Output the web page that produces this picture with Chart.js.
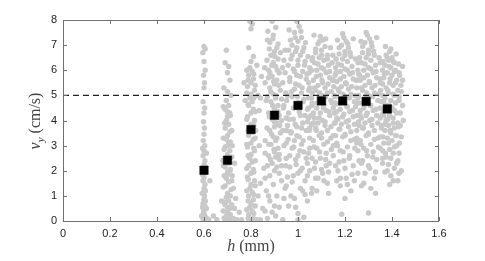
<!DOCTYPE html>
<html>
<head>
<meta charset="utf-8">
<script src="https://cdn.jsdelivr.net/npm/chart.js@4"></script>
<style>
html,body{margin:0;padding:0;background:#fff;}
#wrap{width:485px;height:261px;}
</style>
</head>
<body>
<div id="wrap"><canvas id="c" width="485" height="261"></canvas></div>
<script>
// Mean values (black squares)
const meanH = [0.60, 0.70, 0.80, 0.90, 1.00, 1.10, 1.19, 1.29, 1.38];
const meanV = [2.02, 2.42, 3.64, 4.21, 4.60, 4.78, 4.78, 4.76, 4.46];
// Reference line
const refLineH = [0, 1.6];
const refLineV = [5, 5];
// Tick labels
const xTickLabels = ['0','0.2','0.4','0.6','0.8','1','1.2','1.4','1.6'];
const yTickLabels = ['0','1','2','3','4','5','6','7','8'];

// Individual measurements (grey points), [h, v]
const col06 = [[0.600,6.95],[0.605,6.85],[0.595,6.7],[0.600,6.35],[0.605,6.0],[0.598,5.8],[0.602,5.5],[0.600,5.3],[0.596,4.75],[0.603,4.5],[0.600,4.3],[0.598,3.95],[0.602,3.7],[0.600,3.45],[0.597,3.2],[0.603,3.0],[0.600,2.8],[0.596,2.6],[0.604,2.4],[0.600,2.25],[0.598,2.05],[0.602,1.9],[0.600,1.75],[0.596,1.6],[0.604,1.45],[0.600,1.3],[0.598,1.15],[0.602,1.0],[0.600,0.85],[0.596,0.7],[0.604,0.6],[0.600,0.45],[0.598,0.35],[0.602,0.25],[0.606,0.15],[0.596,0.08],[0.604,0.03],[0.612,0.1],[0.62,0.05],[0.625,1.6],[0.64,0.2],[0.655,0.05],[0.61,0.5],[0.592,1.1],[0.594,2.9],[0.606,2.15],[0.594,1.85],[0.606,1.2],[0.594,0.55],[0.606,0.8],[0.61,2.7],[0.59,0.2]];
const col07 = [[0.695,6.8],[0.69,6.3],[0.705,6.15],[0.70,5.9],[0.71,5.6],[0.685,5.3],[0.70,5.15],[0.715,5.0],[0.695,4.8],[0.705,4.6],[0.69,4.45],[0.71,4.3],[0.70,4.15],[0.695,4.0],[0.705,3.85],[0.69,3.7],[0.71,3.55],[0.70,3.4],[0.695,3.25],[0.705,3.1],[0.69,2.95],[0.71,2.8],[0.70,2.65],[0.695,2.5],[0.705,2.3],[0.69,2.15],[0.71,2.0],[0.70,1.85],[0.695,1.7],[0.705,1.55],[0.69,1.4],[0.715,1.25],[0.70,1.1],[0.695,0.95],[0.705,0.8],[0.69,0.65],[0.71,0.5],[0.70,0.35],[0.695,0.2],[0.705,0.1],[0.715,0.03],[0.69,0.05],[0.725,0.1],[0.74,0.05],[0.735,0.9],[0.75,0.35],[0.76,0.05],[0.72,3.0],[0.72,1.8],[0.68,2.4],[0.675,0.8],[0.73,2.3],
  [0.682,4.55],[0.712,4.2],[0.688,3.9],[0.718,3.6],[0.682,3.3],[0.712,3.15],[0.686,2.85],[0.718,2.55],[0.682,2.2],[0.712,2.05],[0.686,1.8],[0.718,1.6],[0.682,1.35],[0.712,1.0],[0.686,0.75],[0.718,0.65],[0.682,0.4],[0.712,0.25],[0.686,0.12],[0.725,1.3],[0.73,0.5],[0.7,0.55],[0.7,1.95],[0.7,3.0],[0.7,4.35]];
const col08 = [[0.795,7.95],[0.805,7.85],[0.80,7.65],[0.79,6.9],[0.81,6.55],[0.80,6.35],[0.795,6.1],[0.805,5.95],[0.79,5.8],[0.81,5.65],[0.80,5.5],[0.785,5.35],[0.815,5.2],[0.80,5.05],[0.795,4.9],[0.805,4.75],[0.79,4.6],[0.81,4.45],[0.80,4.3],[0.785,4.15],[0.815,4.0],[0.80,3.85],[0.795,3.7],[0.805,3.55],[0.79,3.4],[0.81,3.25],[0.80,3.1],[0.785,2.95],[0.815,2.8],[0.80,2.65],[0.795,2.5],[0.805,2.35],[0.79,2.2],[0.81,2.05],[0.80,1.9],[0.785,1.75],[0.815,1.6],[0.80,1.45],[0.795,1.3],[0.805,1.15],[0.79,1.0],[0.81,0.85],[0.80,0.7],[0.795,0.55],[0.805,0.4],[0.79,0.25],[0.81,0.1],[0.80,0.03],[0.825,0.05],[0.84,0.05],[0.83,5.0],[0.835,4.4],[0.845,5.75],[0.83,1.0],[0.85,0.5],[0.84,1.5],[0.775,4.8],[0.82,3.6],[0.825,6.2],[0.855,2.1],
  [0.782,6.0],[0.812,5.85],[0.788,5.6],[0.818,5.4],[0.782,5.1],[0.812,4.9],[0.788,4.65],[0.818,4.35],[0.782,4.05],[0.812,3.8],[0.788,3.6],[0.818,3.3],[0.782,3.05],[0.812,2.9],[0.788,2.6],[0.818,2.4],[0.782,2.1],[0.812,1.95],[0.788,1.65],[0.818,1.4],[0.782,1.2],[0.812,1.05],[0.788,0.8],[0.818,0.6],[0.782,0.45],[0.812,0.3],[0.788,0.1],[0.77,5.5],[0.835,3.0],[0.84,4.9]];
const col09 = [[0.89,7.95],[0.905,7.7],[0.895,7.4],[0.88,7.1],[0.91,6.9],[0.90,6.75],[0.885,6.6],[0.915,6.45],[0.895,6.3],[0.905,6.15],[0.875,6.0],[0.92,5.9],[0.89,5.75],[0.91,5.6],[0.90,5.45],[0.88,5.3],[0.925,5.2],[0.895,5.05],[0.905,4.9],[0.885,4.75],[0.915,4.6],[0.90,4.45],[0.875,4.3],[0.92,4.2],[0.89,4.05],[0.91,3.9],[0.90,3.75],[0.88,3.6],[0.925,3.5],[0.895,3.35],[0.905,3.2],[0.885,3.05],[0.915,2.9],[0.90,2.75],[0.875,2.6],[0.92,2.45],[0.89,2.3],[0.91,2.15],[0.90,2.0],[0.88,1.8],[0.93,1.6],[0.895,1.45],[0.865,1.2],[0.91,1.0],[0.88,0.8],[0.92,0.55],[0.89,0.35],[0.905,0.2],[0.87,0.1],[0.935,0.05],[0.86,0.4],[0.87,7.2],[0.88,5.9],[0.865,4.8],[0.93,4.0],[0.94,6.4],[0.935,5.5],[0.86,3.2],[0.87,2.2],[0.94,3.0],[0.95,2.5],[0.945,1.3],
  [0.872,7.55],[0.893,7.25],[0.915,7.05],[0.878,6.85],[0.901,6.55],[0.925,6.7],[0.868,6.4],[0.889,6.2],[0.912,6.0],[0.934,6.1],[0.874,5.7],[0.897,5.55],[0.918,5.4],[0.884,5.15],[0.906,5.0],[0.93,4.85],[0.87,4.95],[0.892,4.6],[0.915,4.35],[0.938,4.5],[0.878,4.15],[0.9,3.95],[0.922,3.8],[0.868,3.7],[0.888,3.45],[0.91,3.3],[0.935,3.6],[0.876,3.05],[0.898,2.85],[0.92,2.65],[0.883,2.45],[0.905,2.55],[0.93,2.2],[0.86,2.7],[0.95,4.1],[0.948,5.1],[0.952,3.6],[0.86,5.5],[0.858,6.1],[0.945,6.8]];
const col10 = [[0.995,7.95],[1.005,7.75],[0.985,7.5],[1.015,7.3],[1.0,7.15],[0.975,7.0],[1.025,6.9],[0.99,6.75],[1.01,6.6],[0.97,6.45],[1.03,6.35],[1.0,6.2],[0.98,6.05],[1.02,5.95],[0.995,5.8],[1.035,5.65],[0.965,5.55],[1.005,5.4],[0.985,5.25],[1.015,5.1],[0.975,4.95],[1.025,4.85],[1.0,4.7],[0.99,4.55],[1.04,4.45],[0.96,4.3],[1.01,4.2],[0.98,4.05],[1.02,3.9],[0.995,3.75],[1.035,3.6],[0.97,3.5],[1.005,3.35],[0.985,3.2],[1.015,3.05],[0.975,2.9],[1.025,2.75],[1.0,2.6],[0.99,2.45],[1.04,2.3],[0.965,2.15],[1.01,2.0],[0.98,1.8],[1.03,1.6],[0.95,1.4],[1.02,1.2],[0.97,1.0],[1.04,0.8],[0.99,0.55],[1.0,0.3],[1.025,0.15],[0.96,0.6],[1.045,4.9],[1.05,3.3],[0.955,3.8],[0.955,5.0],[1.05,6.1],[0.96,6.8],[1.045,5.5],[1.05,2.0],[0.94,4.6],[1.055,4.2],[0.945,5.9],
  [0.962,7.6],[0.988,7.3],[1.012,7.55],[1.032,7.1],[0.968,7.2],[0.995,6.9],[1.02,6.75],[1.042,6.55],[0.975,6.6],[1.0,6.4],[1.028,6.2],[0.958,6.2],[0.985,5.95],[1.01,5.75],[1.038,5.85],[0.965,5.7],[0.99,5.45],[1.018,5.3],[1.045,5.2],[0.972,5.15],[0.998,4.95],[1.022,4.75],[0.952,4.8],[0.98,4.5],[1.005,4.35],[1.03,4.2],[0.962,4.05],[0.988,3.85],[1.015,3.7],[1.04,3.95],[0.97,3.55],[0.995,3.4],[1.022,3.2],[1.048,3.6],[0.958,3.25],[0.982,2.95],[1.008,2.8],[1.035,2.5],[0.965,2.6],[0.992,2.25],[1.018,2.1],[0.948,2.2],[1.045,2.7],[0.975,1.55],[1.01,1.3],[1.06,4.6],[1.065,3.9],[1.06,5.1],[0.95,3.1],[1.058,1.1]];
const col11 = [[1.095,7.35],[1.105,7.2],[1.085,7.05],[1.115,6.95],[1.1,6.8],[1.075,6.7],[1.125,6.6],[1.09,6.5],[1.11,6.4],[1.07,6.3],[1.13,6.2],[1.1,6.1],[1.08,6.0],[1.12,5.9],[1.095,5.8],[1.135,5.7],[1.065,5.6],[1.105,5.5],[1.085,5.4],[1.115,5.3],[1.075,5.2],[1.125,5.1],[1.1,5.0],[1.09,4.9],[1.14,4.8],[1.06,4.7],[1.11,4.6],[1.08,4.5],[1.12,4.4],[1.095,4.3],[1.135,4.2],[1.07,4.1],[1.105,4.0],[1.085,3.9],[1.115,3.8],[1.075,3.7],[1.125,3.6],[1.1,3.5],[1.09,3.4],[1.14,3.3],[1.065,3.2],[1.11,3.05],[1.08,2.9],[1.12,2.7],[1.095,2.5],[1.135,2.3],[1.07,2.1],[1.105,1.9],[1.085,1.7],[1.125,1.5],[1.06,1.3],[1.15,4.5],[1.15,5.6],[1.05,5.3],[1.155,3.9],[1.05,3.7],[1.145,6.3],[1.06,6.4],[1.155,5.0],[1.045,4.1],[1.15,2.6],[1.06,2.5],
  [1.068,7.4],[1.092,7.15],[1.118,7.25],[1.138,6.9],[1.075,6.85],[1.1,6.6],[1.125,6.45],[1.148,6.6],[1.062,6.5],[1.085,6.25],[1.11,6.05],[1.135,5.95],[1.058,6.0],[1.078,5.75],[1.102,5.6],[1.128,5.45],[1.152,5.35],[1.07,5.3],[1.092,5.1],[1.118,4.95],[1.142,5.15],[1.058,4.9],[1.082,4.7],[1.108,4.5],[1.132,4.35],[1.158,4.7],[1.066,4.3],[1.09,4.1],[1.115,3.95],[1.14,3.75],[1.058,3.85],[1.078,3.6],[1.1,3.3],[1.125,3.15],[1.15,3.4],[1.068,2.95],[1.092,2.75],[1.118,2.45],[1.142,2.85],[1.075,2.35],[1.1,2.05],[1.13,1.95],[1.08,1.2],[1.11,1.6],[1.045,4.5],[1.048,5.9],[1.162,5.9],[1.165,4.1],[1.05,2.9],[1.16,2.2]];
const col12 = [[1.195,7.3],[1.205,7.15],[1.185,7.0],[1.215,6.9],[1.2,6.75],[1.175,6.65],[1.225,6.55],[1.19,6.45],[1.21,6.35],[1.17,6.25],[1.23,6.15],[1.2,6.05],[1.18,5.95],[1.22,5.85],[1.195,5.75],[1.235,5.65],[1.165,5.55],[1.205,5.45],[1.185,5.35],[1.215,5.25],[1.175,5.15],[1.225,5.05],[1.2,4.95],[1.19,4.85],[1.24,4.75],[1.16,4.65],[1.21,4.55],[1.18,4.45],[1.22,4.35],[1.195,4.25],[1.235,4.15],[1.17,4.05],[1.205,3.95],[1.185,3.85],[1.215,3.75],[1.175,3.65],[1.225,3.55],[1.2,3.45],[1.19,3.35],[1.24,3.25],[1.165,3.1],[1.21,2.95],[1.18,2.8],[1.22,2.6],[1.195,2.4],[1.235,2.2],[1.17,2.0],[1.205,1.7],[1.18,1.4],[1.225,1.2],[1.186,0.27],[1.25,5.3],[1.25,4.2],[1.155,4.3],[1.255,6.0],[1.16,6.1],[1.25,3.6],[1.16,3.4],[1.255,2.8],
  [1.168,7.2],[1.19,7.45],[1.212,7.05],[1.235,7.25],[1.175,6.9],[1.2,6.6],[1.222,6.7],[1.245,6.45],[1.162,6.45],[1.185,6.2],[1.21,6.0],[1.232,5.9],[1.158,5.8],[1.18,5.65],[1.203,5.5],[1.228,5.35],[1.25,5.6],[1.17,5.25],[1.192,5.05],[1.218,4.9],[1.242,5.0],[1.158,4.95],[1.182,4.7],[1.208,4.55],[1.232,4.4],[1.255,4.7],[1.165,4.35],[1.19,4.15],[1.215,4.0],[1.24,3.85],[1.158,3.9],[1.178,3.65],[1.2,3.4],[1.225,3.2],[1.25,3.3],[1.168,3.0],[1.192,2.75],[1.218,2.5],[1.242,2.9],[1.175,2.35],[1.2,2.1],[1.23,1.85],[1.18,1.7],[1.21,1.45],[1.145,4.7],[1.148,5.6],[1.262,5.8],[1.265,4.2],[1.15,3.0],[1.26,2.4]];
const col13 = [[1.295,7.4],[1.305,7.25],[1.285,7.1],[1.315,6.95],[1.3,6.8],[1.275,6.7],[1.325,6.6],[1.29,6.5],[1.31,6.4],[1.27,6.3],[1.33,6.2],[1.3,6.1],[1.28,6.0],[1.32,5.9],[1.295,5.8],[1.335,5.7],[1.265,5.6],[1.305,5.5],[1.285,5.4],[1.315,5.3],[1.275,5.2],[1.325,5.1],[1.3,5.0],[1.29,4.9],[1.34,4.8],[1.26,4.7],[1.31,4.6],[1.28,4.5],[1.32,4.4],[1.295,4.3],[1.335,4.2],[1.27,4.1],[1.305,4.0],[1.285,3.9],[1.315,3.8],[1.275,3.7],[1.325,3.6],[1.3,3.5],[1.29,3.4],[1.34,3.3],[1.265,3.2],[1.31,3.05],[1.28,2.9],[1.32,2.75],[1.295,2.6],[1.335,2.45],[1.27,2.3],[1.305,2.1],[1.285,1.9],[1.325,1.7],[1.3,0.32],[1.35,4.5],[1.35,5.5],[1.255,4.9],[1.355,3.8],[1.26,3.8],[1.35,6.3],[1.255,6.3],[1.35,2.9],
  [1.268,7.15],[1.29,7.5],[1.312,7.1],[1.335,7.3],[1.275,6.95],[1.3,6.65],[1.322,6.75],[1.345,6.5],[1.262,6.5],[1.285,6.25],[1.31,6.05],[1.332,5.95],[1.258,5.85],[1.28,5.7],[1.303,5.55],[1.328,5.4],[1.35,5.65],[1.27,5.3],[1.292,5.1],[1.318,4.95],[1.342,5.05],[1.258,5.0],[1.282,4.75],[1.308,4.6],[1.332,4.45],[1.355,4.75],[1.265,4.4],[1.29,4.2],[1.315,4.05],[1.34,3.9],[1.258,3.95],[1.278,3.7],[1.3,3.45],[1.325,3.25],[1.35,3.35],[1.268,3.05],[1.292,2.8],[1.318,2.55],[1.342,2.95],[1.275,2.4],[1.3,2.2],[1.33,1.95],[1.28,1.5],[1.31,1.3],[1.245,4.55],[1.248,5.6],[1.36,6.0],[1.365,4.2],[1.25,3.1],[1.36,2.5]];
const col14 = [[1.39,6.75],[1.375,6.6],[1.4,6.5],[1.385,6.4],[1.41,6.3],[1.37,6.2],[1.395,6.1],[1.415,6.0],[1.38,5.9],[1.4,5.8],[1.365,5.7],[1.42,5.6],[1.39,5.5],[1.405,5.4],[1.375,5.3],[1.425,5.2],[1.385,5.1],[1.41,5.0],[1.44,5.15],[1.37,4.9],[1.395,4.8],[1.415,4.7],[1.38,4.6],[1.4,4.5],[1.365,4.4],[1.42,4.3],[1.39,4.2],[1.405,4.1],[1.375,4.0],[1.425,3.9],[1.385,3.8],[1.41,3.7],[1.37,3.6],[1.395,3.5],[1.415,3.4],[1.38,3.3],[1.4,3.2],[1.365,3.1],[1.42,3.0],[1.39,2.85],[1.405,2.7],[1.375,2.55],[1.425,2.4],[1.385,2.25],[1.41,2.1],[1.37,1.95],[1.395,1.8],[1.43,2.7],[1.43,4.8],[1.435,3.8],[1.36,5.0],[1.43,5.9],[1.36,2.8],[1.43,1.9],
  [1.372,6.95],[1.395,6.85],[1.418,6.65],[1.38,6.5],[1.405,6.35],[1.428,6.25],[1.362,6.35],[1.388,6.15],[1.41,5.95],[1.432,5.8],[1.368,5.85],[1.392,5.65],[1.415,5.5],[1.438,5.4],[1.36,5.45],[1.382,5.2],[1.405,5.05],[1.43,4.95],[1.365,4.75],[1.388,4.6],[1.41,4.4],[1.435,4.3],[1.36,4.25],[1.382,4.05],[1.405,3.9],[1.428,3.75],[1.37,3.85],[1.392,3.6],[1.418,3.4],[1.44,3.35],[1.362,3.35],[1.385,3.1],[1.41,2.95],[1.432,3.1],[1.372,2.7],[1.395,2.5],[1.42,2.3],[1.38,2.0],[1.405,1.6],[1.39,1.45],[1.445,4.6],[1.445,5.6],[1.448,4.0],[1.355,3.7],[1.352,5.2],[1.35,4.1],[1.44,2.0],[1.425,1.6],[1.445,6.15],[1.36,2.3]];
const lowScatter = [[0.86,1.7],[0.875,1.0],[0.9,0.6],[0.92,1.9],[0.94,0.9],[0.955,1.75],[0.985,0.9],[1.0,1.9],[1.03,1.05],[1.04,1.8],[1.075,1.7],[1.12,2.2],[1.13,1.1],[1.165,1.6],[1.2,0.9],[1.24,1.6],[1.27,1.4],[1.33,1.1],[1.0,0.05],[1.255,1.9]];

const greyPoints = [].concat(col06, col07, col08, col09, col10, col11, col12, col13, col14, lowScatter)
  .map(p => ({x: p[0], y: p[1]}));
const meanPoints = meanH.map((h, i) => ({x: h, y: meanV[i]}));
const refPoints = refLineH.map((h, i) => ({x: h, y: refLineV[i]}));

const frameColor = '#707070';

const decor = {
  id: 'decor',
  afterDraw(chart) {
    const ctx = chart.ctx, a = chart.chartArea;
    const xs = chart.scales.x, ys = chart.scales.y;
    ctx.save();
    ctx.strokeStyle = frameColor;
    ctx.lineWidth = 1;
    ctx.strokeRect(Math.round(a.left) + 0.5, Math.round(a.top) + 0.5,
                   Math.round(a.right - a.left) - 1, Math.round(a.bottom - a.top));
    const tl = 4;
    ctx.beginPath();
    xs.ticks.forEach(t => {
      const px = Math.round(xs.getPixelForValue(t.value)) + 0.5;
      ctx.moveTo(px, a.bottom); ctx.lineTo(px, a.bottom - tl);
      ctx.moveTo(px, a.top); ctx.lineTo(px, a.top + tl);
    });
    ys.ticks.forEach(t => {
      const py = Math.round(ys.getPixelForValue(t.value)) + 0.5;
      ctx.moveTo(a.left, py); ctx.lineTo(a.left + tl, py);
      ctx.moveTo(a.right, py); ctx.lineTo(a.right - tl, py);
    });
    ctx.stroke();

    // axis titles
    ctx.fillStyle = '#444';
    ctx.textBaseline = 'alphabetic';
    const serif = "'Liberation Serif','DejaVu Serif',serif";
    const itF = 'italic 16px ' + serif, rgF = '16px ' + serif;
    ctx.font = itF; const wH = ctx.measureText('h').width;
    ctx.font = rgF; const wR = ctx.measureText(' (mm)').width;
    let x0 = (a.left + a.right) / 2 - (wH + wR) / 2;
    const yb = 251;
    ctx.font = itF; ctx.fillText('h', x0, yb);
    ctx.font = rgF; ctx.fillText(' (mm)', x0 + wH, yb);
    // y title (rotated)
    ctx.save();
    ctx.translate(40, 121);
    ctx.rotate(-Math.PI / 2);
    ctx.font = itF; const wv = ctx.measureText('v').width;
    const subF = 'italic 11px ' + serif;
    ctx.font = subF; const wy = ctx.measureText('y').width;
    ctx.font = rgF; const wc = ctx.measureText(' (cm/s)').width;
    let s = -(wv + wy + wc) / 2;
    ctx.font = itF; ctx.fillText('v', s, 0);
    ctx.font = subF; ctx.fillText('y', s + wv, 3.5);
    ctx.font = rgF; ctx.fillText(' (cm/s)', s + wv + wy, 0);
    ctx.restore();
    ctx.restore();
  }
};

new Chart(document.getElementById('c'), {
  type: 'scatter',
  data: {
    datasets: [
      {
        label: 'mean',
        data: meanPoints,
        pointStyle: 'rect',
        pointRadius: 6.0,
        backgroundColor: '#000',
        borderColor: '#000',
        borderWidth: 0.5
      },
      {
        label: 'ref',
        type: 'line',
        data: refPoints,
        borderColor: '#222',
        borderWidth: 1.2,
        borderDash: [6, 4],
        pointRadius: 0,
        fill: false
      },
      {
        label: 'data',
        data: greyPoints,
        pointStyle: 'circle',
        pointRadius: 2.7,
        backgroundColor: '#c9c9c9',
        borderWidth: 0
      }
    ]
  },
  options: {
    responsive: false,
    animation: false,
    layout: {padding: {left: 0, right: 46, top: 20, bottom: 0}},
    plugins: {legend: {display: false}, tooltip: {enabled: false}},
    scales: {
      x: {
        type: 'linear', min: 0, max: 1.6,
        grid: {display: false, drawTicks: false},
        border: {display: false},
        ticks: {
          stepSize: 0.2, padding: 6, color: '#222',
          font: {family: "'Liberation Sans', Arial, sans-serif", size: 11},
          callback: (v, i) => xTickLabels[i]
        },
        afterFit: s => { s.height = 40; }
      },
      y: {
        type: 'linear', min: 0, max: 8,
        grid: {display: false, drawTicks: false},
        border: {display: false},
        ticks: {
          stepSize: 1, padding: 6, color: '#222',
          font: {family: "'Liberation Sans', Arial, sans-serif", size: 11},
          callback: (v, i) => yTickLabels[i]
        },
        afterFit: s => { s.width = 63; }
      }
    }
  },
  plugins: [decor]
});
</script>
</body>
</html>
